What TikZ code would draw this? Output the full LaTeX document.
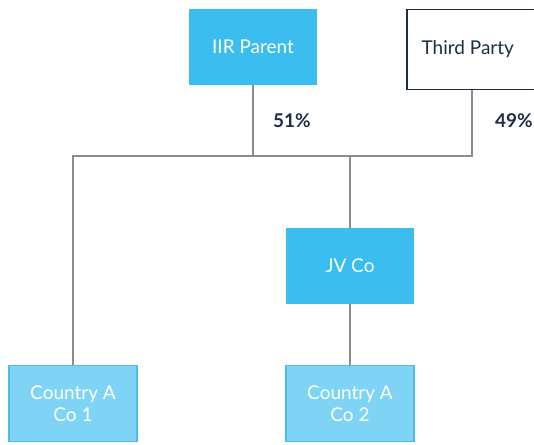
\documentclass[tikz,border=0pt]{standalone}
\usepackage{fontspec}
\setmainfont{Lato}
\usepackage{xcolor}
\usetikzlibrary{positioning, calc}

\definecolor{iirblue}{HTML}{3BBDF0}
\definecolor{lightblue}{HTML}{7FD4F5}
\definecolor{edgeblue}{HTML}{4BBDEB}
\definecolor{navy}{HTML}{1E2D45}
\definecolor{linegray}{HTML}{8C8C8C}

\begin{document}
\begin{tikzpicture}[
                x=0.025cm, y=-0.025cm,
                entity/.style={rectangle, minimum width=3.2cm, minimum height=1.9cm, inner sep=0pt, font=\fontsize{13.5}{15.5}\selectfont, align=center},
                owned/.style={fill=iirblue, text=white},
                sub/.style={fill=lightblue, draw=edgeblue, line width=0.8pt, text=white},
                outside/.style={draw=navy, line width=0.8pt, fill=white, text=navy},
                link/.style={draw=linegray, line width=1pt},
                share/.style={text=navy, font=\fontsize{13.5}{15.5}\selectfont\bfseries}
            ]
                \useasboundingbox (0,0) rectangle (534,445);

                % Entities
                \node[entity, owned] (IIR) at (253,47) {IIR Parent};
                \node[entity, outside, minimum width=3.25cm, minimum height=1.98cm] (TP) at (472,49.5) {\hspace*{-6pt}Third Party};
                \node[entity, owned] (JV) at (350,266) {JV Co};
                \node[entity, sub] (CoA) at (73,403.5) {Country A\\Co 1};
                \node[entity, sub] (CoB) at (350,403.5) {Country A\\Co 2};

                % Ownership lines
                \coordinate (bus) at (0,156);
                \draw[link] (IIR.south) -- (IIR.south |- bus) -| (CoA.north);
                \draw[link] (TP.south) -- (TP.south |- bus) -- (IIR.south |- bus);
                \draw[link] (JV.north |- bus) -- (JV.north);
                \draw[link] (JV.south) -- (CoB.north);

                % Shares
                \node[share] (p51) at (292,121) {51\%};
                \node[share] (p49) at (514,121) {49\%};
            \end{tikzpicture}
\end{document}
